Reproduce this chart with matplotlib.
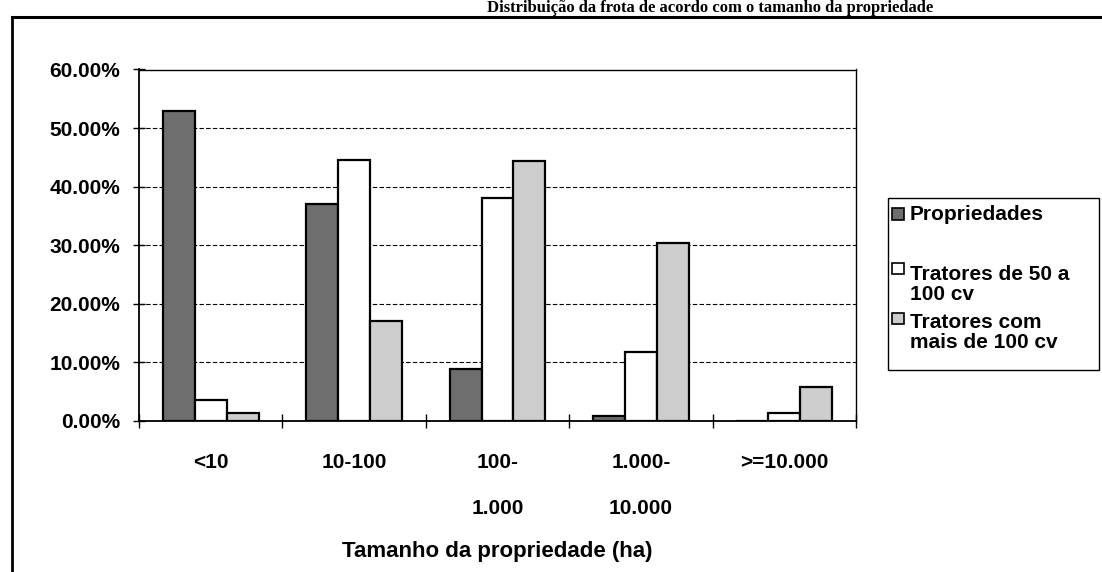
import numpy as np
import matplotlib
matplotlib.use("Agg")
import matplotlib.pyplot as plt
from matplotlib.patches import Rectangle
from matplotlib.lines import Line2D
from matplotlib.ticker import PercentFormatter, FixedLocator

# Data (fractions)
categories = ['<10', '10-100', '100-\n1.000', '1.000-\n10.000', '>=10.000']
propriedades = [0.529, 0.371, 0.088, 0.008, 0.0]
tratores_50_100 = [0.035, 0.445, 0.381, 0.118, 0.014]
tratores_100 = [0.014, 0.171, 0.443, 0.303, 0.058]

series_names = ['Propriedades', 'Tratores de 50 a\n100 cv', 'Tratores com\nmais de 100 cv']
series_colors = ['#6e6e6e', '#ffffff', '#cdcdcd']

W, H = 1102, 572
plt.rcParams['font.family'] = ['Liberation Sans', 'DejaVu Sans']
plt.rcParams['font.weight'] = 'bold'
FS = 15

fig = plt.figure(figsize=(W / 100, H / 100), dpi=100)


def fx(x):
    return x / W


def fy(y):
    return 1 - y / H


ax = fig.add_axes([fx(139), fy(420.7), fx(856) - fx(139), fy(69.5) - fy(420.7)])

x = np.arange(len(categories))
bw = 0.223
for i, (vals, col) in enumerate(zip([propriedades, tratores_50_100, tratores_100], series_colors)):
    ax.bar(x + (i - 1) * bw, vals, width=bw, color=col, edgecolor='black',
           linewidth=1.6, zorder=3)

ax.set_xlim(-0.5, len(categories) - 0.5)
ax.set_ylim(0, 0.6)
ax.set_yticks(np.arange(0, 0.61, 0.1))
ax.yaxis.set_major_formatter(PercentFormatter(1.0, decimals=2))
ax.yaxis.grid(True, color='black', linestyle=(0, (4, 2)), linewidth=0.8, zorder=0)

ax.set_xticks(x)
ax.set_xticklabels(categories, linespacing=2.8)
ax.xaxis.set_minor_locator(FixedLocator(np.arange(-0.5, len(categories), 1.0)))
ax.tick_params(axis='x', which='major', length=0, pad=23, labelsize=FS)
ax.tick_params(axis='x', which='minor', direction='inout', length=10, width=1.0)
ax.tick_params(axis='y', direction='inout', length=9, width=1.0, pad=9, labelsize=FS)

for s in ['left', 'bottom']:
    ax.spines[s].set_linewidth(1.3)
for s in ['top', 'right']:
    ax.spines[s].set_linewidth(1.0)
    ax.spines[s].set_linestyle((0, (2, 1)))

ax.set_xlabel('Tamanho da propriedade (ha)', fontsize=16, fontweight='bold', va='center')
ax.xaxis.set_label_coords(0.5, (420.7 - 551.5) / (420.7 - 69.5))

# legend box
fig.patches.append(Rectangle((fx(888), fy(370)), fx(1099) - fx(888), fy(198) - fy(370),
                             transform=fig.transFigure, facecolor='white',
                             edgecolor='black', linewidth=1.0))
handle_y = [214, 268.5, 318]
text_lines = [[213], [273, 293], [320, 340]]
for name, col, hy, lys in zip(series_names, series_colors, handle_y, text_lines):
    fig.patches.append(Rectangle((fx(892), fy(hy + 5.5)), fx(12), 11 / H,
                                 transform=fig.transFigure, facecolor=col,
                                 edgecolor='black', linewidth=1.2))
    for line, ly in zip(name.split('\n'), lys):
        fig.text(fx(910), fy(ly + 7.5), line, fontsize=FS, fontweight='bold',
                 ha='left', va='baseline')

# outer frame of the scanned page
fig.add_artist(Line2D([fx(12), fx(12)], [fy(17), 0], color='black', linewidth=2.0))
fig.add_artist(Line2D([fx(12), 1], [fy(17), fy(17)], color='black', linewidth=2.2))

# caption at the top of the scan
fig.text(fx(933), fy(8), 'Distribuição da frota de acordo com o tamanho da propriedade',
         family=['Liberation Serif', 'DejaVu Serif'], fontsize=12, fontweight='bold',
         ha='right', va='center')

fig.savefig('out.png', dpi=100)
